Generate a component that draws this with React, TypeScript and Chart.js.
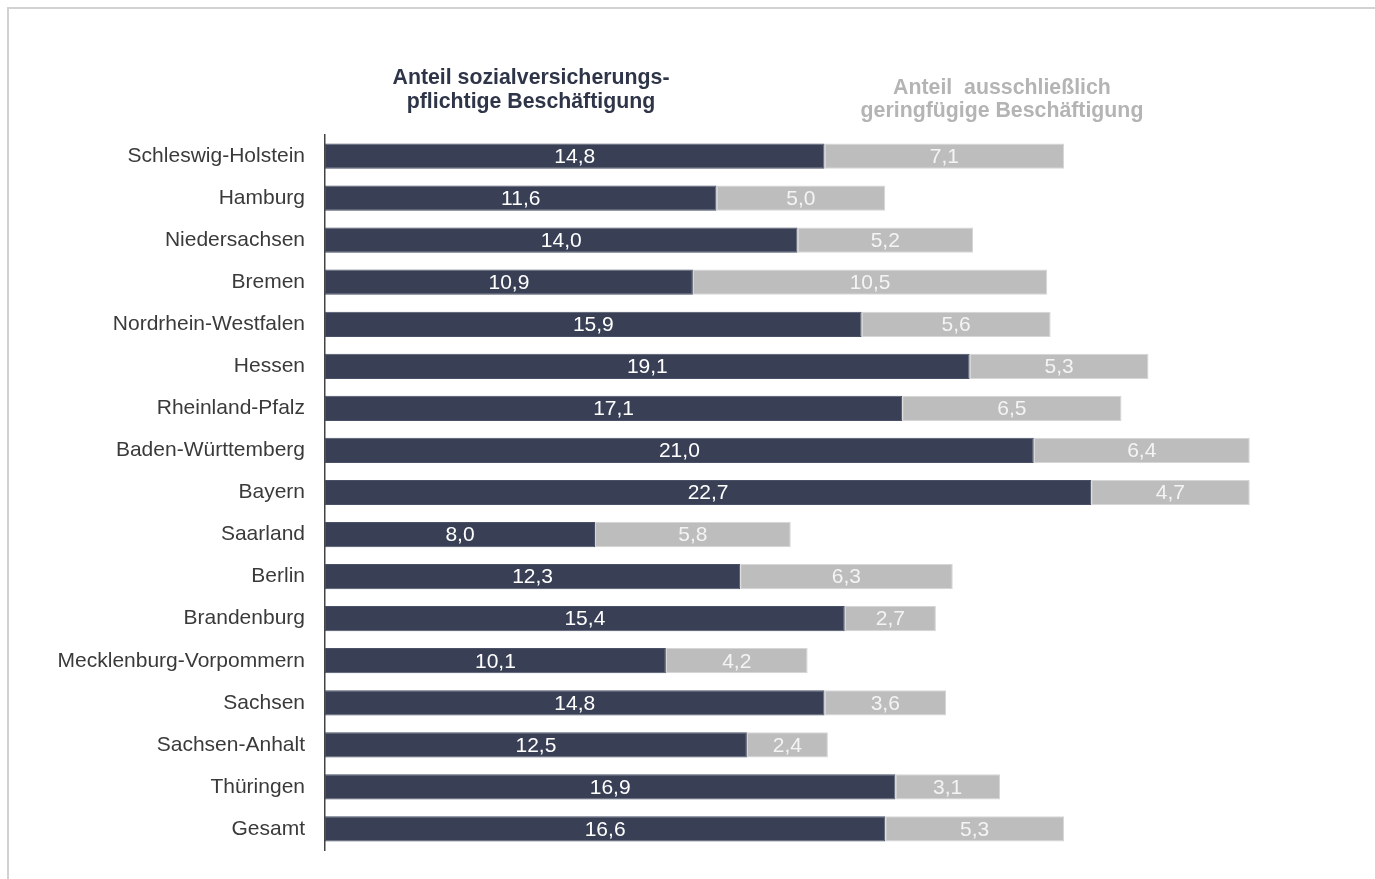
import React, { useEffect, useRef } from "react";
import { Chart, registerables } from "chart.js";

Chart.register(...registerables);

const categories = [
  "Schleswig-Holstein",
  "Hamburg",
  "Niedersachsen",
  "Bremen",
  "Nordrhein-Westfalen",
  "Hessen",
  "Rheinland-Pfalz",
  "Baden-Württemberg",
  "Bayern",
  "Saarland",
  "Berlin",
  "Brandenburg",
  "Mecklenburg-Vorpommern",
  "Sachsen",
  "Sachsen-Anhalt",
  "Thüringen",
  "Gesamt",
];

const sozialversicherungspflichtig = [
  14.8, 11.6, 14.0, 10.9, 15.9, 19.1, 17.1, 21.0, 22.7, 8.0, 12.3, 15.4, 10.1, 14.8, 12.5, 16.9, 16.6,
];

const geringfuegig = [
  7.1, 5.0, 5.2, 10.5, 5.6, 5.3, 6.5, 6.4, 4.7, 5.8, 6.3, 2.7, 4.2, 3.6, 2.4, 3.1, 5.3,
];

const titleLeft = ["Anteil sozialversicherungs-", "pflichtige Beschäftigung"];
const titleRight = ["Anteil  ausschließlich", "geringfügige Beschäftigung"];

const FONT = "'Liberation Sans', Arial, Helvetica, sans-serif";
const DARK = "#394056";
const GRAY = "#bdbdbd";

const fmt = (v: number) => v.toFixed(1).replace(".", ",");

const labelPlugin = {
  id: "barLabels",
  afterDatasetsDraw(chart: any) {
    const ctx = chart.ctx;
    ctx.save();
    ctx.font = `21px ${FONT}`;
    ctx.textAlign = "center";
    ctx.textBaseline = "middle";
    chart.data.datasets.forEach((ds: any, di: number) => {
      const meta = chart.getDatasetMeta(di);
      meta.data.forEach((bar: any, i: number) => {
        const { x, y, base } = bar.getProps(["x", "y", "base"], true);
        const cx = (x + base) / 2;
        ctx.fillStyle = di === 0 ? "#ffffff" : "#f4f4f4";
        ctx.fillText(fmt(ds.data[i]), cx, y + 1);
      });
    });
    ctx.restore();
  },
};

const titlePlugin = {
  id: "twoTitles",
  afterDraw(chart: any) {
    const ctx = chart.ctx;
    ctx.save();
    ctx.font = `bold 21.3px ${FONT}`;
    ctx.textAlign = "center";
    ctx.textBaseline = "middle";
    ctx.fillStyle = "#2f3548";
    ctx.fillText(titleLeft[0], 523, 70);
    ctx.fillText(titleLeft[1], 523, 94);
    ctx.fillStyle = "#b4b4b4";
    ctx.fillText(titleRight[0], 994, 80);
    ctx.fillText(titleRight[1], 994, 103);
    ctx.restore();
  },
};

export default function App() {
  const ref = useRef<HTMLCanvasElement | null>(null);

  useEffect(() => {
    if (!ref.current) return;
    const chart = new Chart(ref.current, {
      type: "bar",
      data: {
        labels: categories,
        datasets: [
          {
            label: "Anteil sozialversicherungspflichtige Beschäftigung",
            data: sozialversicherungspflichtig,
            backgroundColor: DARK,
            borderColor: "#4a5066",
            borderWidth: 1,
            borderSkipped: false,
            categoryPercentage: 1,
            barPercentage: 0.6,
          },
          {
            label: "Anteil ausschließlich geringfügige Beschäftigung",
            data: geringfuegig,
            backgroundColor: GRAY,
            borderColor: "#d6d6d6",
            borderWidth: 1,
            borderSkipped: false,
            categoryPercentage: 1,
            barPercentage: 0.6,
          },
        ],
      },
      options: {
        indexAxis: "y",
        animation: false,
        responsive: false,
        maintainAspectRatio: false,
        layout: { padding: { top: 127, bottom: 21, right: 29.5, left: 0 } },
        plugins: {
          legend: { display: false },
          tooltip: { enabled: false },
          title: { display: false },
        },
        scales: {
          x: {
            stacked: true,
            display: false,
            min: 0,
            max: 30,
          },
          y: {
            stacked: true,
            grid: { display: false, drawTicks: false },
            border: { display: true, color: "#444444", width: 1.5 },
            ticks: {
              color: "#3a3a3a",
              font: { family: FONT, size: 21 },
              padding: 20,
            },
            afterFit: (scale: any) => {
              scale.width = 317;
              scale.paddingTop = 0;
              scale.paddingBottom = 0;
            },
          },
        },
      },
      plugins: [labelPlugin, titlePlugin],
    });
    return () => chart.destroy();
  }, []);

  return (
    <div style={{ position: "relative", width: 1359, height: 863 }}>
      <canvas ref={ref} width={1359} height={863} style={{ position: "absolute", left: 0, top: 0 }} />
      <div
        style={{
          position: "fixed",
          left: 7,
          top: 7,
          width: 1420,
          height: 920,
          borderTop: "2px solid #d2d2d2",
          borderLeft: "2px solid #d2d2d2",
          boxSizing: "border-box",
          pointerEvents: "none",
        }}
      />
    </div>
  );
}
